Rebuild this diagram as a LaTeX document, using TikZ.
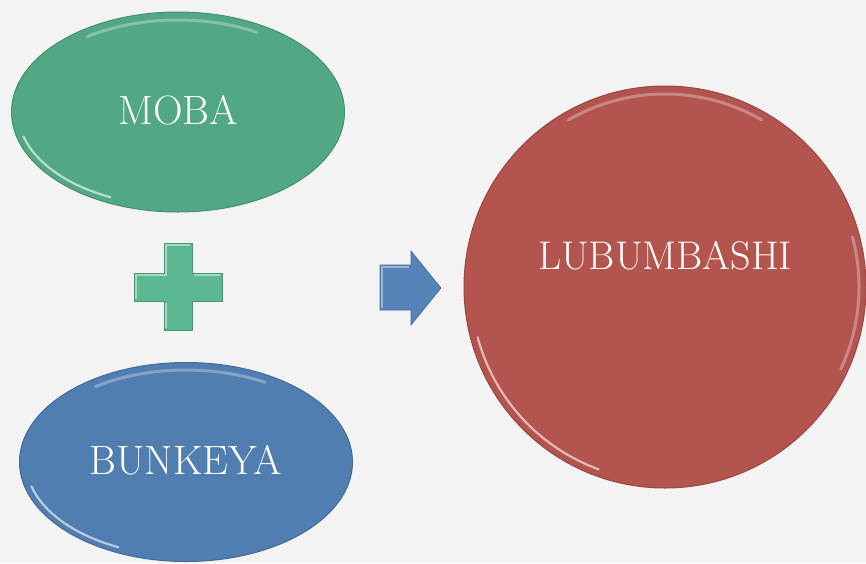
\documentclass[tikz,border=0pt]{standalone}
\usetikzlibrary{shapes.geometric}
\definecolor{bg}{RGB}{243,243,243}
\definecolor{mgreen}{RGB}{82,168,132}
\definecolor{pgreen}{RGB}{92,184,146}
\definecolor{mblue}{RGB}{80,126,176}
\definecolor{ablue}{RGB}{84,132,186}
\definecolor{mred}{RGB}{180,84,78}
\begin{document}
\begin{tikzpicture}[x=1pt,y=-1pt,
  blob/.style={ellipse, inner sep=0pt, text=white, font=\fontsize{41}{45}\selectfont},
  rim/.style={draw=#1, line width=1pt},
  shine/.style={white, opacity=0.6, line width=2.2pt, line cap=round},
  shinet/.style={white, opacity=0.3, line width=3pt, line cap=round},
  bevel/.style={white, opacity=0.45, line width=1.2pt},
  lbl/.style={text=white, font=\fontsize{41}{45}\selectfont}]
\fill[bg] (0,0) rectangle (866,563);
\useasboundingbox (0,0) rectangle (866,563);
% ellipses
\node[blob, fill=mgreen, rim=mgreen!85!black, minimum width=333pt, minimum height=200pt] (moba) at (178,112) {};
\node[blob, fill=mblue, rim=mblue!85!black, minimum width=333pt, minimum height=199pt] (bunk) at (186,462) {};
\node[blob, circle, fill=mred, rim=mred!85!black, minimum size=402pt] (lubu) at (665,287) {};
% highlights (lower-left bevel and upper rim)
\draw[shine] (moba.center) ++({160*cos(115)},{94*sin(115)}) arc[start angle=115, end angle=165, x radius=160, y radius=94];
\draw[shinet] (moba.center) ++({158*cos(-125)},{92*sin(-125)}) arc[start angle=-125, end angle=-60, x radius=158, y radius=92];
\draw[shine] (bunk.center) ++({160*cos(115)},{94*sin(115)}) arc[start angle=115, end angle=165, x radius=160, y radius=94];
\draw[shinet] (bunk.center) ++({158*cos(-125)},{92*sin(-125)}) arc[start angle=-125, end angle=-60, x radius=158, y radius=92];
\draw[shine] (lubu.center) ++({194*cos(110)},{194*sin(110)}) arc[start angle=110, end angle=165, radius=194];
\draw[shinet] (lubu.center) ++({193*cos(-120)},{193*sin(-120)}) arc[start angle=-120, end angle=-60, radius=193];
\draw[shinet] (lubu.center) ++({194*cos(-15)},{194*sin(-15)}) arc[start angle=-15, end angle=25, radius=194];
% labels
\node[lbl] (tmoba) at (178,110) {MOBA};
\node[lbl] (tbunk) at (186,460) {BUNKEYA};
\node[lbl, font=\fontsize{40}{44}\selectfont] (tlubu) at (665,256) {LUBUMBASHI};
% plus
\fill[pgreen, draw=pgreen!80!black, line width=0.6pt]
  (164,243) -- (192,243) -- (192,273) -- (222,273) -- (222,301) -- (192,301)
  -- (192,330) -- (164,330) -- (164,301) -- (134,301) -- (134,273) -- (164,273) -- cycle;
\draw[bevel] (136,299) -- (136,275) -- (166,275) -- (166,245) -- (190,245);
\draw[bevel] (166,303) -- (166,328);
\draw[bevel] (194,275) -- (220,275);
% arrow
\fill[ablue, draw=ablue!80!black, line width=0.6pt]
  (380,265) -- (411,265) -- (411,251) -- (441,288) -- (411,325) -- (411,310) -- (380,310) -- cycle;
\draw[bevel, opacity=0.4] (382,308) -- (382,267) -- (409,267);
\end{tikzpicture}
\end{document}
